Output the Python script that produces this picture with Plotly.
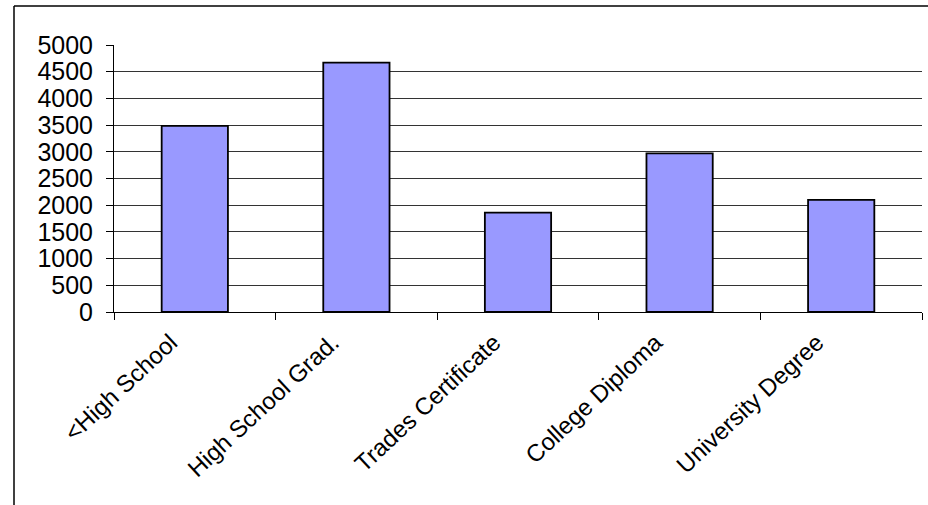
import plotly.graph_objects as go

categories = ["<High School", "High School Grad.", "Trades Certificate", "College Diploma", "University Degree"]
values = [3485, 4670, 1860, 2970, 2100]
y_ticks = [0, 500, 1000, 1500, 2000, 2500, 3000, 3500, 4000, 4500, 5000]

W, H = 928, 505
L, R, T, B = 114, 6, 45, 193
pw, ph = W - L - R, H - T - B

fig = go.Figure()
fig.add_trace(go.Bar(
    x=categories, y=values,
    marker=dict(color="#9999FF", line=dict(color="#000000", width=1.8)),
))

font = dict(family="Liberation Sans, Arial, sans-serif", size=25, color="#000000")
xfont = dict(family="Liberation Sans, Arial, sans-serif", size=24, color="#000000")

fig.update_layout(
    width=W, height=H,
    margin=dict(l=L, r=R, t=T, b=B, pad=0),
    paper_bgcolor="white", plot_bgcolor="white",
    bargap=0.59,
    showlegend=False,
    font=font,
    xaxis=dict(
        type="category", tickson="boundaries", ticks="outside", ticklen=7,
        tickcolor="#000", tickwidth=1, tickangle=-43, tickfont=xfont,
        ticklabelshift=-24, ticklabelstandoff=6,
        showgrid=False, showline=True, linecolor="#000", linewidth=1,
        zeroline=False,
    ),
    yaxis=dict(
        range=[0, 5000], tickvals=y_ticks, ticktext=[str(v) for v in y_ticks],
        ticks="outside", ticklen=7, tickcolor="#000", tickwidth=1, tickfont=font,
        showgrid=True, gridcolor="#333333", gridwidth=1,
        showline=True, linecolor="#000", linewidth=1, zeroline=False,
        ticklabelstandoff=8,
    ),
)

# outer chart border (Excel chart area): top and left edges only visible
x0 = (14 - L) / pw
y1 = (H - B - 6) / ph
fig.add_shape(type="line", xref="paper", yref="paper",
              x0=x0, x1=(W + 5 - L) / pw, y0=y1, y1=y1,
              line=dict(color="#000000", width=1.5))
fig.add_shape(type="line", xref="paper", yref="paper",
              x0=x0, x1=x0, y0=y1, y1=-(B + 5) / ph,
              line=dict(color="#000000", width=1.5))

fig.write_html("out.html")
